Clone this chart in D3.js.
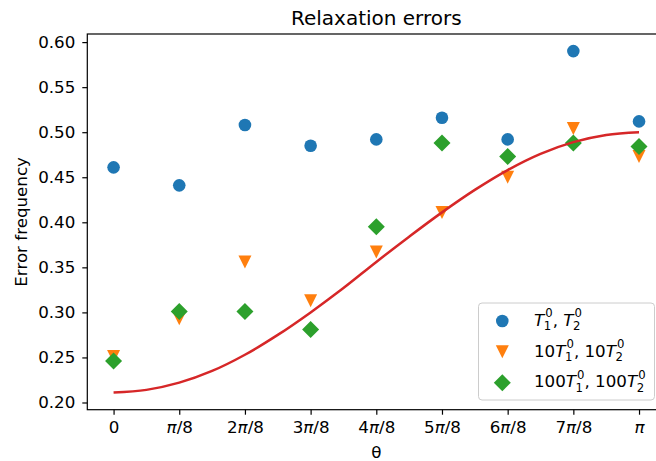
<!DOCTYPE html>
<html>
<head>
<meta charset="utf-8">
<script src="https://cdn.jsdelivr.net/npm/d3@7"></script>
<style>
  body { margin: 0; background: #fff; }
  svg { display: block; }
  text { font-family: "DejaVu Sans", sans-serif; fill: #000; }
</style>
</head>
<body>
<svg id="chart" width="656" height="461"></svg>
<script>
// θ positions, in multiples of π/8
const thetaSteps = [0, 1, 2, 3, 4, 5, 6, 7, 8];
const thetaLabels = ["0", "π/8", "2π/8", "3π/8", "4π/8", "5π/8", "6π/8", "7π/8", "π"];

// measured error frequencies per relaxation setting
const errT0 = [0.461, 0.441, 0.508, 0.485, 0.492, 0.516, 0.492, 0.590, 0.512];
const err10T0 = [0.251, 0.293, 0.356, 0.313, 0.367, 0.411, 0.450, 0.504, 0.473];
const err100T0 = [0.246, 0.301, 0.301, 0.281, 0.395, 0.488, 0.473, 0.488, 0.484];

// reference curve, sampled every π/16 (positions in multiples of π/8)
const modelSteps = [0, 0.5, 1, 1.5, 2, 2.5, 3, 3.5, 4, 4.5, 5, 5.5, 6, 6.5, 7, 7.5, 8];
const modelValues = [0.211, 0.214, 0.222, 0.235, 0.253, 0.275, 0.300, 0.327, 0.356,
                     0.384, 0.411, 0.436, 0.458, 0.476, 0.489, 0.497, 0.500];

const yTicks = [0.20, 0.25, 0.30, 0.35, 0.40, 0.45, 0.50, 0.55, 0.60];

const seriesColors = ["#1f77b4", "#ff7f0e", "#2ca02c"];
const lineColor = "#d62728";

// legend labels as math pieces: text, italic flag, stacked super/subscripts
const legendLabels = [
  [{t: "T", it: true, sup: "0", sub: "1"}, {t: ", "}, {t: "T", it: true, sup: "0", sub: "2"}],
  [{t: "10"}, {t: "T", it: true, sup: "0", sub: "1"}, {t: ", 10"}, {t: "T", it: true, sup: "0", sub: "2"}],
  [{t: "100"}, {t: "T", it: true, sup: "0", sub: "1"}, {t: ", 100"}, {t: "T", it: true, sup: "0", sub: "2"}]
];

(function draw() {
  const FS = 16.7;
  const svg = d3.select("#chart");
  const pLeft = 87.3, pRight = 665.3, pTop = 34, pBottom = 409.7;

  const x = d3.scaleLinear().domain([-0.4, 8.4]).range([pLeft, pRight]);
  const y = d3.scaleLinear().domain([0.192, 0.609]).range([pBottom, pTop]);

  // axes
  const xAxis = svg.append("g")
    .attr("transform", `translate(0,${pBottom})`)
    .call(d3.axisBottom(x).tickValues(thetaSteps).tickSize(5).tickSizeOuter(0).tickPadding(6.5)
      .tickFormat(() => ""));
  xAxis.select(".domain").remove();
  xAxis.selectAll(".tick line").attr("stroke", "#000").attr("stroke-width", 1.2);
  xAxis.selectAll(".tick text").each(function(d, i) {
    const t = d3.select(this).style("font-size", FS + "px").attr("fill", "#000");
    const parts = thetaLabels[i].split("π");
    parts.forEach((p, j) => {
      if (p) t.append("tspan").text(p);
      if (j < parts.length - 1) t.append("tspan").style("font-style", "italic").text("π");
    });
  });
  xAxis.attr("font-family", null);

  const yAxis = svg.append("g")
    .attr("transform", `translate(${pLeft},0)`)
    .call(d3.axisLeft(y).tickValues(yTicks).tickSize(5).tickSizeOuter(0).tickPadding(7)
      .tickFormat(d3.format(".2f")));
  yAxis.select(".domain").remove();
  yAxis.selectAll(".tick line").attr("stroke", "#000").attr("stroke-width", 1.2);
  yAxis.selectAll(".tick text").style("font-size", FS + "px").attr("fill", "#000");
  yAxis.attr("font-family", null);

  // plotting area
  svg.append("defs").append("clipPath").attr("id", "plotClip")
    .append("rect").attr("x", pLeft).attr("y", pTop).attr("width", pRight - pLeft).attr("height", pBottom - pTop);
  const plot = svg.append("g").attr("clip-path", "url(#plotClip)");

  const circleSym = d3.symbol().type(d3.symbolCircle).size(Math.PI * 6.3 * 6.3);
  function trianglePath(s) {
    const h = s / 2;
    return `M${-h},${-h}L${h},${-h}L0,${h}Z`;
  }
  function diamondPath(s) {
    const h = s / 2;
    return `M0,${-h}L${h},0L0,${h}L${-h},0Z`;
  }
  const markerPaths = [circleSym(), trianglePath(13), diamondPath(17)];

  [errT0, err10T0, err100T0].forEach((vals, si) => {
    plot.append("g").selectAll("path").data(vals).join("path")
      .attr("d", markerPaths[si])
      .attr("transform", (d, i) => `translate(${x(thetaSteps[i])},${y(d)})`)
      .attr("fill", seriesColors[si]);
  });

  const line = d3.line()
    .x((d, i) => x(modelSteps[i]))
    .y(d => y(d))
    .curve(d3.curveCatmullRom);
  plot.append("path").datum(modelValues)
    .attr("d", line)
    .attr("fill", "none")
    .attr("stroke", lineColor)
    .attr("stroke-width", 2.5);

  // frame
  svg.append("rect").attr("x", pLeft).attr("y", pTop).attr("width", pRight - pLeft).attr("height", pBottom - pTop)
    .attr("fill", "none").attr("stroke", "#000").attr("stroke-width", 1.2);

  // title and axis labels
  svg.append("text").attr("x", (pLeft + pRight) / 2).attr("y", 25).attr("text-anchor", "middle")
    .style("font-size", "20px").text("Relaxation errors");
  svg.append("text").attr("x", (pLeft + pRight) / 2).attr("y", 457.5).attr("text-anchor", "middle")
    .style("font-size", FS + "px").text("θ");
  svg.append("text").attr("transform", `translate(26.7,${(pTop + pBottom) / 2}) rotate(-90)`)
    .attr("text-anchor", "middle").style("font-size", FS + "px").text("Error frequency");

  // legend
  const lg = svg.append("g");
  lg.append("rect").attr("x", 478.5).attr("y", 303).attr("width", 176).attr("height", 97).attr("rx", 3.5)
    .attr("fill", "#fff").attr("fill-opacity", 0.8).attr("stroke", "#cccccc").attr("stroke-width", 1);

  const rowY = [321, 351.7, 382.7];
  const rowBase = [325.5, 356.5, 387.3];

  function mathText(g, x0, yb, parts, size) {
    let cx = x0;
    const small = size * 0.7;
    parts.forEach(p => {
      if (p.t) {
        const t = g.append("text").attr("x", cx).attr("y", yb).style("font-size", size + "px")
          .style("font-style", p.it ? "italic" : "normal").style("white-space", "pre").text(p.t);
        cx += t.node().getComputedTextLength();
      }
      if (p.sup || p.sub) {
        let w = 0;
        if (p.sup) {
          const t = g.append("text").attr("x", cx + 1).attr("y", yb - size * 0.5).style("font-size", small + "px").text(p.sup);
          w = Math.max(w, t.node().getComputedTextLength() + 1);
        }
        if (p.sub) {
          const t = g.append("text").attr("x", cx - 0.5).attr("y", yb + size * 0.26).style("font-size", small + "px").text(p.sub);
          w = Math.max(w, t.node().getComputedTextLength() - 0.5);
        }
        cx += w;
      }
    });
  }

  legendLabels.forEach((parts, i) => {
    lg.append("path").attr("d", markerPaths[i]).attr("transform", `translate(502.3,${rowY[i]})`)
      .attr("fill", seriesColors[i]);
    mathText(lg, 534, rowBase[i], parts, FS);
  });
})();
</script>
</body>
</html>
